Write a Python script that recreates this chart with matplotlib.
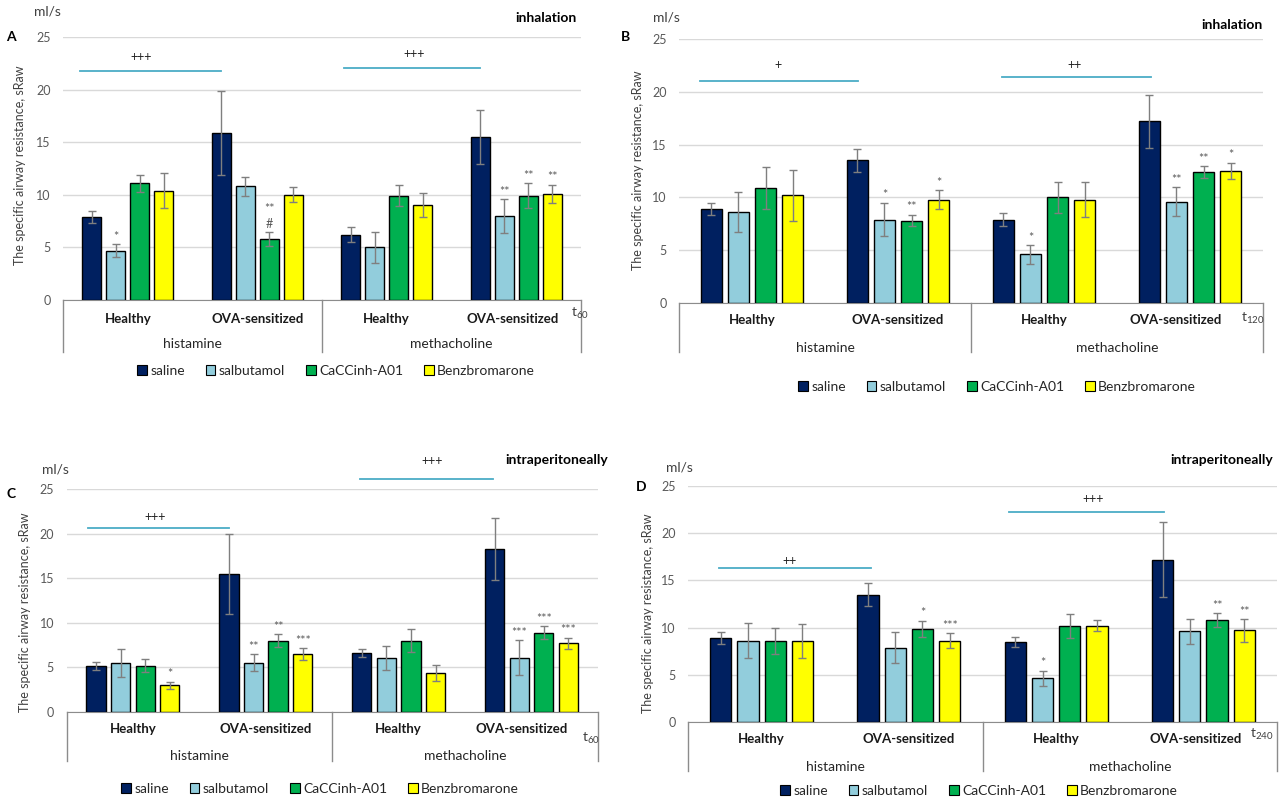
import matplotlib
matplotlib.use("Agg")
import matplotlib.pyplot as plt
import matplotlib.transforms as mtransforms
from matplotlib.patches import Patch

plt.rcParams['font.family'] = ['Lato', 'DejaVu Sans']

SERIES = ["saline", "salbutamol", "CaCCinh-A01", "Benzbromarone"]
COLORS = ["#002060", "#92CDDC", "#00B050", "#FFFF00"]
GROUPS = ["Healthy", "OVA-sensitized", "Healthy", "OVA-sensitized"]
AGENTS = ["histamine", "methacholine"]

# values per series (rows) for groups H-his, OVA-his, H-meth, OVA-meth
A_MEAN = [[7.9, 15.9, 6.2, 15.5], [4.7, 10.8, 5.0, 8.0], [11.1, 5.8, 9.9, 9.9], [10.4, 10.0, 9.0, 10.1]]
A_ERR = [[0.55, 4.0, 0.7, 2.55], [0.6, 0.9, 1.5, 1.6], [0.8, 0.7, 1.0, 1.2], [1.65, 0.7, 1.15, 0.85]]
B_MEAN = [[8.9, 13.5, 7.9, 17.2], [8.6, 7.9, 4.6, 9.6], [10.9, 7.8, 10.0, 12.4], [10.2, 9.8, 9.8, 12.5]]
B_ERR = [[0.6, 1.1, 0.6, 2.5], [1.9, 1.6, 0.9, 1.35], [2.0, 0.55, 1.45, 0.55], [2.4, 0.9, 1.7, 0.8]]
C_MEAN = [[5.2, 15.5, 6.6, 18.3], [5.5, 5.5, 6.1, 6.1], [5.2, 8.0, 8.0, 8.9], [3.0, 6.5, 4.4, 7.7]]
C_ERR = [[0.45, 4.5, 0.45, 3.45], [1.55, 0.95, 1.35, 1.95], [0.75, 0.7, 1.3, 0.75], [0.4, 0.65, 0.9, 0.65]]
D_MEAN = [[8.9, 13.5, 8.5, 17.2], [8.6, 7.85, 4.65, 9.6], [8.6, 9.9, 10.2, 10.8], [8.6, 8.6, 10.2, 9.7]]
D_ERR = [[0.6, 1.2, 0.55, 4.0], [1.85, 1.65, 0.8, 1.3], [1.35, 0.85, 1.25, 0.7], [1.8, 0.8, 0.6, 1.2]]

# significance marks: (group, series, label)
A_SIG = [(0, 1, "*"), (1, 2, "**\n#"), (3, 1, "**"), (3, 2, "**"), (3, 3, "**")]
B_SIG = [(1, 1, "*"), (1, 2, "**"), (1, 3, "*"), (2, 1, "*"), (3, 1, "**"), (3, 2, "**"), (3, 3, "*")]
C_SIG = [(0, 3, "*"), (1, 1, "**"), (1, 2, "**"), (1, 3, "***"), (3, 1, "***"), (3, 2, "***"), (3, 3, "***")]
D_SIG = [(1, 2, "*"), (1, 3, "***"), (2, 1, "*"), (3, 2, "**"), (3, 3, "**")]

# comparison lines: (x0, x1, y, label, label x, label y)
A_PLUS = [(-0.37, 0.72, 21.8, "+++", 0.10, 23.1), (1.67, 2.72, 22.1, "+++", 2.21, 23.35)]
B_PLUS = [(-0.355, 0.727, 21.05, "+", 0.18, 22.5), (1.71, 2.73, 21.4, "++", 2.21, 22.5)]
C_PLUS = [(-0.337, 0.72, 20.6, "+++", 0.17, 21.9), (1.71, 2.71, 26.1, "+++", 2.25, 28.1)]
D_PLUS = [(-0.29, 0.74, 16.3, "++", 0.19, 17.1), (1.68, 2.73, 22.2, "+++", 2.25, 23.6)]

W, H = 1280, 801
fig = plt.figure(figsize=(W / 100, H / 100), dpi=100)


def fx(px):
    return px / W


def fy(py):
    return 1 - py / H


def draw_panel(rect, means, errs, sigs, pluses, tsub, letter, route, layout):
    left, top, right, bottom = rect
    ax = fig.add_axes([fx(left), fy(bottom), fx(right - left), (bottom - top) / H])
    step, width = 0.185, 0.145
    for s in range(4):
        xs = [g + (s - 1.5) * step for g in range(4)]
        ax.bar(xs, means[s], width, color=COLORS[s], edgecolor="black", linewidth=1, zorder=3)
        ax.errorbar(xs, means[s], yerr=errs[s], fmt="none", ecolor="#7F7F7F",
                    elinewidth=1, capsize=3, capthick=1, zorder=4)
    for g, s, lab in sigs:
        x = g + (s - 1.5) * step
        ax.annotate(lab, xy=(x, means[s][g] + errs[s][g]), xytext=(0, 1), textcoords="offset points",
                    ha="center", va="bottom", fontsize=9, color="#595959", linespacing=1.3)
    for x0, x1, y, lab, lx, ly in pluses:
        ax.plot([x0, x1], [y, y], color="#4BACC6", lw=1.3, clip_on=False, zorder=2)
        ax.text(lx, ly, lab, ha="center", va="center", fontsize=9, color="#222222", clip_on=False)

    ax.set_xlim(-0.5, 3.5)
    ax.set_ylim(0, 25)
    ax.set_yticks([0, 5, 10, 15, 20, 25])
    ax.set_xticks([])
    ax.grid(axis="y", color="#D9D9D9", lw=1, zorder=0)
    for sp in ["top", "right", "left"]:
        ax.spines[sp].set_visible(False)
    ax.spines["bottom"].set_color("#8C8C8C")
    ax.tick_params(axis="y", length=0, pad=9, labelcolor="#595959", labelsize=9)

    depth, lab1, lab2, tdx, tdy, shift = layout
    tr = mtransforms.blended_transform_factory(ax.transData, ax.transAxes)
    d = depth / ax.bbox.height
    for x in [-0.5, 1.5, 3.5]:
        ax.plot([x, x], [0, -d], transform=tr, color="#8C8C8C", lw=1, clip_on=False)
    for g, name in enumerate(GROUPS):
        dx = shift if g == 3 else 0
        ax.annotate(name, xy=(g, 0), xycoords=tr, xytext=(dx, -lab1), textcoords="offset pixels",
                    ha="center", va="center", fontsize=9.5, fontweight="bold", color="#1a1a1a")
    for i, name in enumerate(AGENTS):
        ax.annotate(name, xy=(2 * i + 0.5, 0), xycoords=tr, xytext=(0, -lab2), textcoords="offset pixels",
                    ha="center", va="center", fontsize=10, color="#262626")
    ax.annotate(r"$\mathregular{t_{%s}}$" % tsub, xy=(1, 0), xycoords="axes fraction",
                xytext=(tdx, -tdy), textcoords="offset pixels", ha="left", va="center",
                fontsize=10, color="#404040")

    lx, ly, mx, my, rx, ry, yx, yy, gx, gy = letter_pos[letter]
    fig.text(fx(lx), fy(ly), letter, ha="center", va="center", fontsize=10, fontweight="bold")
    fig.text(fx(mx), fy(my), "ml/s", ha="center", va="center", fontsize=10, color="#404040")
    fig.text(fx(rx), fy(ry), route, ha="right", va="center", fontsize=10, fontweight="bold")
    fig.text(fx(yx), fy(yy), "The specific airway resistance, sRaw", rotation=90,
             ha="center", va="center", fontsize=9, color="#404040")
    handles = [Patch(facecolor=c, edgecolor="black", linewidth=0.8) for c in COLORS]
    fig.legend(handles, SERIES, loc="center", bbox_to_anchor=(fx(gx), fy(gy)), ncol=4,
               frameon=False, fontsize=10, handlelength=0.7, handleheight=0.7,
               handletextpad=0.25, columnspacing=1.5, labelcolor="#262626")
    return ax


letter_pos = {
    "A": (11, 37, 47, 11, 577, 18, 20, 165, 336, 371),
    "B": (626, 37, 666, 17, 1263, 25, 638, 170, 997, 387),
    "C": (11, 494, 55, 469, 608, 460, 25, 612, 320, 789),
    "D": (641, 487, 679, 468, 1273, 460, 648, 613, 979, 791),
}

draw_panel((63, 37, 581, 300), A_MEAN, A_ERR, A_SIG, A_PLUS, "60", "A", "inhalation",
           (52, 19, 44, -10, 13, -4))
draw_panel((679, 39, 1263, 303), B_MEAN, B_ERR, B_SIG, B_PLUS, "120", "B", "inhalation",
           (49, 17, 45, -22, 15, -14))
draw_panel((66.5, 489, 598, 712), C_MEAN, C_ERR, C_SIG, C_PLUS, "60", "C", "intraperitoneally",
           (49, 17, 44, -16, 26, -10))
draw_panel((688, 486, 1277, 722), D_MEAN, D_ERR, D_SIG, D_PLUS, "240", "D", "intraperitoneally",
           (49, 17, 45, -27, 12, -8))

fig.savefig("out.png", dpi=100)
